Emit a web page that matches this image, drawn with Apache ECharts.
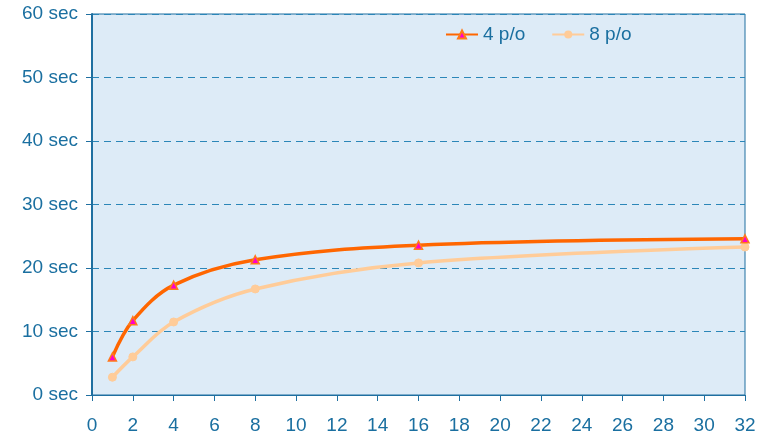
<!DOCTYPE html>
<html>
<head>
<meta charset="utf-8">
<script src="https://cdn.jsdelivr.net/npm/echarts@6/dist/echarts.min.js"></script>
<style>
    html, body { margin: 0; padding: 0; background: #fff; }
    #chart { width: 769px; height: 438px; }
</style>
</head>
<body>
<div id="chart"></div>
<script>
let xValues = [1, 2, 4, 8, 16, 32];
let po4 = [6.0, 11.7, 17.3, 21.3, 23.6, 24.6];
let po8 = [2.8, 6.0, 11.5, 16.7, 20.8, 23.3];
let seriesNames = ['4 p/o', '8 p/o'];

let blue = '#1a6fa0';

function pairs(ys) {
    return xValues.map(function (x, i) { return [x, ys[i]]; });
}

let option = {
    animation: false,
    textStyle: { fontFamily: 'Liberation Sans, Arial, sans-serif' },
    grid: {
        left: 92, right: 24, top: 14, bottom: 43,
        show: true,
        backgroundColor: '#ddebf7',
        borderColor: '#1f6fa0',
        borderWidth: 1
    },
    legend: {
        top: 20, left: 440,
        itemGap: 26,
        itemWidth: 32,
        itemHeight: 10,
        textStyle: { color: blue, fontSize: 19 },
        data: seriesNames
    },
    xAxis: {
        type: 'value',
        min: 0, max: 32, interval: 2,
        axisLine: { lineStyle: { color: '#1f6fa0', width: 1 } },
        axisTick: { lineStyle: { color: '#1f6fa0' }, length: 6 },
        axisLabel: { color: blue, fontSize: 19, margin: 21 },
        splitLine: { show: false }
    },
    yAxis: {
        type: 'value',
        min: 0, max: 60, interval: 10,
        axisLine: { show: true, lineStyle: { color: '#1f6fa0', width: 2 } },
        axisTick: { show: true, lineStyle: { color: '#1f6fa0' }, length: 6 },
        axisLabel: { color: blue, fontSize: 19, margin: 14, formatter: '{value} sec' },
        splitLine: { lineStyle: { color: '#2b86b8', type: [7, 5], width: 1 } }
    },
    series: [
        {
            name: seriesNames[0],
            type: 'line',
            smooth: 0.35,
            data: pairs(po4),
            symbol: 'triangle',
            symbolSize: 8,
            lineStyle: { color: '#ff6600', width: 3.5 },
            itemStyle: { color: '#ff00cc', borderColor: '#ff7a1a', borderWidth: 1.5 },
            z: 3
        },
        {
            name: seriesNames[1],
            type: 'line',
            smooth: 0.35,
            data: pairs(po8),
            symbol: 'circle',
            symbolSize: 8,
            lineStyle: { color: '#ffcc99', width: 3.5 },
            itemStyle: { color: '#ffcc99', borderColor: '#ffcc99' },
            z: 2
        }
    ]
};
echarts.init(document.getElementById('chart')).setOption(option);
</script>
</body>
</html>
